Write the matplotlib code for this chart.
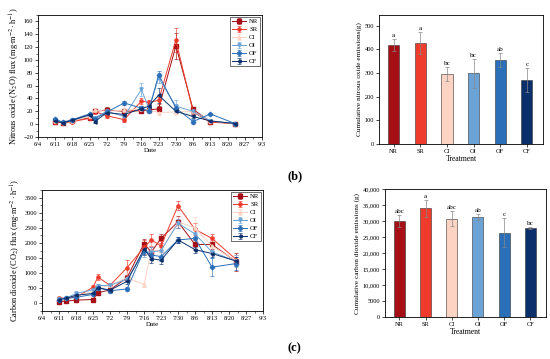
import matplotlib
matplotlib.use("Agg")
import matplotlib.pyplot as plt
import pandas as pd
import numpy as np
from matplotlib.ticker import AutoMinorLocator, FuncFormatter

plt.rcParams['font.family'] = ['Liberation Serif', 'DejaVu Serif']
plt.rcParams['mathtext.fontset'] = 'stix'

# ---------------- data ----------------
dates = ["2021-06-11", "2021-06-14", "2021-06-18", "2021-06-25", "2021-06-27", "2021-07-02",
         "2021-07-09", "2021-07-16", "2021-07-19", "2021-07-23", "2021-07-30", "2021-08-06",
         "2021-08-13", "2021-08-23"]
date_ticks = ["2021-06-04", "2021-06-11", "2021-06-18", "2021-06-25", "2021-07-02", "2021-07-09",
              "2021-07-16", "2021-07-23", "2021-07-30", "2021-08-06", "2021-08-13", "2021-08-20",
              "2021-08-27", "2021-09-03"]
date_tick_labels = ["6/4", "6/11", "6/18", "6/25", "7/2", "7/9", "7/16", "7/23", "7/30", "8/6",
                    "8/13", "8/20", "8/27", "9/3"]
treatments = ["NR", "SR", "CI", "OI", "OF", "CF"]

# N2O flux (mg m-2 h-1)
n2o_NR = [4, 2, 5, 10, 20, 22, 20, 21, 22, 24, 122, 23, 4, 1]
n2o_SR = [4, 2, 4, 9, 20, 13, 7, 36, 34, 37, 131, 19, 3, 1]
n2o_CI = [5, 3, 5, 12, 22, 20, 22, 24, 22, 18, 19, 20, 5, 1]
n2o_OI = [7, 2, 6, 14, 10, 20, 12, 54, 25, 72, 28, 20, 5, 1]
n2o_OF = [8, 3, 7, 16, 8, 19, 33, 25, 20, 77, 25, 4, 16, 1]
n2o_CF = [5, 2, 6, 15, 4, 18, 15, 24, 28, 45, 20, 12, 5, 1]
n2o_err_NR = [1, 1, 1, 2, 3, 4, 3, 3, 3, 4, 20, 4, 1, 0.5]
n2o_err_SR = [1, 1, 1, 3, 4, 3, 3, 4, 3, 5, 18, 3, 1, 0.5]
n2o_err_CI = [1, 1, 1, 2, 3, 3, 8, 4, 3, 3, 4, 3, 1, 0.5]
n2o_err_OI = [1, 1, 1, 2, 2, 3, 4, 10, 4, 8, 10, 4, 1, 0.5]
n2o_err_OF = [1, 1, 1, 2, 2, 3, 3, 4, 3, 6, 5, 4, 2, 0.5]
n2o_err_CF = [1, 1, 1, 3, 2, 3, 4, 4, 3, 12, 3, 3, 1, 0.5]

# CO2 flux (mg m-2 h-1)
co2_NR = [60, 80, 110, 130, 350, 450, 850, 1980, 1700, 2150, 2700, 1950, 1950, 1380]
co2_SR = [170, 180, 200, 540, 870, 600, 1180, 1850, 2100, 1900, 3230, 2450, 2150, 1450]
co2_CI = [150, 180, 250, 400, 500, 600, 850, 620, 1750, 1750, 2700, 2500, 1900, 1400]
co2_OI = [150, 180, 330, 450, 590, 600, 800, 1700, 1700, 1750, 2650, 2300, 1700, 1400]
co2_OF = [130, 170, 200, 300, 520, 420, 480, 1750, 1600, 1550, 2100, 2150, 1200, 1320]
co2_CF = [130, 170, 270, 330, 520, 440, 730, 1800, 1480, 1430, 2100, 1780, 1650, 1400]
co2_err_NR = [20, 20, 30, 40, 50, 60, 100, 150, 150, 150, 200, 150, 150, 300]
co2_err_SR = [30, 30, 40, 60, 100, 80, 250, 250, 200, 150, 150, 200, 150, 150]
co2_err_CI = [30, 30, 40, 60, 80, 60, 150, 60, 250, 200, 150, 350, 200, 200]
co2_err_OI = [30, 30, 50, 50, 60, 60, 100, 150, 150, 150, 150, 200, 200, 200]
co2_err_OF = [30, 30, 40, 50, 60, 60, 60, 150, 150, 150, 100, 150, 300, 200]
co2_err_CF = [30, 30, 40, 50, 60, 60, 80, 150, 150, 120, 100, 100, 100, 150]

# cumulative emissions
cum_n2o = [418, 427, 296, 298, 356, 270]
cum_n2o_err = [25, 45, 28, 62, 30, 50]
cum_n2o_letters = ["a", "a", "bc", "bc", "ab", "c"]
cum_co2 = [30000, 34000, 30700, 31300, 26400, 27900]
cum_co2_err = [2000, 2700, 2300, 1000, 4500, 300]
cum_co2_letters = ["abc", "a", "abc", "ab", "c", "bc"]

# ---------------- style ----------------
colors = ["#A50F15", "#EF3B2C", "#FDD3C4", "#6BA3D6", "#2A6FB8", "#0B2F6B"]
markers = ["s", "o", "^", "v", "D", "<"]

n2o_series = [n2o_NR, n2o_SR, n2o_CI, n2o_OI, n2o_OF, n2o_CF]
n2o_errs = [n2o_err_NR, n2o_err_SR, n2o_err_CI, n2o_err_OI, n2o_err_OF, n2o_err_CF]
co2_series = [co2_NR, co2_SR, co2_CI, co2_OI, co2_OF, co2_CF]
co2_errs = [co2_err_NR, co2_err_SR, co2_err_CI, co2_err_OI, co2_err_OF, co2_err_CF]

x_dates = pd.to_datetime(dates)
tick_dates = pd.to_datetime(date_ticks)

fig = plt.figure(figsize=(5.5, 3.59), dpi=100)
ax1 = fig.add_axes([0.0691, 0.6184, 0.4073, 0.3398])
ax2 = fig.add_axes([0.689, 0.599, 0.298, 0.359])
ax3 = fig.add_axes([0.0764, 0.1337, 0.4018, 0.3370])
ax4 = fig.add_axes([0.700, 0.117, 0.2927, 0.3565])

TICK_FS = 4.6
LAB_FS = 5.5


def style_axes(ax):
    for s in ax.spines.values():
        s.set_linewidth(0.6)
    ax.tick_params(direction='out', length=2, width=0.5, labelsize=TICK_FS, pad=1.5)
    ax.tick_params(which='minor', direction='out', length=1.2, width=0.4)


def line_panel(ax, series, errs, ylim, yticks, ylabel):
    for vals, err, c, m, lab in zip(series, errs, colors, markers, treatments):
        ax.errorbar(x_dates, vals, yerr=err, color=c, marker=m, markersize=2.3,
                    linewidth=0.7, elinewidth=0.45, capsize=1.1, capthick=0.45, label=lab)
    ax.set_xlim(tick_dates[0], tick_dates[-1])
    ax.set_xticks(tick_dates)
    ax.set_xticklabels(date_tick_labels)
    ax.set_xticks([d + pd.Timedelta(days=3.5) for d in tick_dates[:-1]], minor=True)
    ax.set_ylim(*ylim)
    ax.set_yticks(yticks)
    ax.yaxis.set_minor_locator(AutoMinorLocator(2))
    style_axes(ax)
    ax.set_xlabel("Date", fontsize=LAB_FS - 0.5, labelpad=1)
    ax.set_ylabel(ylabel, fontsize=LAB_FS + 0.5, labelpad=1)
    leg = ax.legend(loc='upper right', fontsize=4.8, frameon=True, fancybox=False,
                    edgecolor='black', handlelength=2.2, borderaxespad=0.25,
                    labelspacing=0.35, borderpad=0.3, handletextpad=0.4)
    leg.get_frame().set_linewidth(0.5)


def bar_panel(ax, vals, errs, letters, ylim, yticks, ylabel, fmt=None):
    x = np.arange(len(treatments))
    ax.bar(x, vals, width=0.42, color=colors, edgecolor='#333333', linewidth=0.4)
    ax.errorbar(x, vals, yerr=errs, fmt='none', ecolor='#888888', elinewidth=0.5,
                capsize=1.3, capthick=0.5)
    for xi, v, e, l in zip(x, vals, errs, letters):
        ax.text(xi, v + e + (ylim[1] - ylim[0]) * 0.008, l, ha='center', va='bottom',
                fontsize=TICK_FS + 0.5)
    ax.set_xticks(x)
    ax.set_xticklabels(treatments)
    ax.set_xlim(-0.55, len(treatments) - 0.4)
    ax.set_ylim(*ylim)
    ax.set_yticks(yticks)
    if fmt is not None:
        ax.yaxis.set_major_formatter(FuncFormatter(fmt))
    style_axes(ax)
    ax.set_xlabel("Treatment", fontsize=LAB_FS, labelpad=1)
    ax.set_ylabel(ylabel, fontsize=LAB_FS - 0.3, labelpad=2)


line_panel(ax1, n2o_series, n2o_errs, (-20, 170), np.arange(-20, 161, 20),
           r"Nitrous oxide (N$_2$O) flux (mg$\cdot$m$^{-2}\cdot$h$^{-1}$)")
line_panel(ax3, co2_series, co2_errs, (-250, 3750), np.arange(0, 3501, 500),
           r"Carbon dioxide (CO$_2$) flux (mg$\cdot$m$^{-2}\cdot$h$^{-1}$)")

bar_panel(ax2, cum_n2o, cum_n2o_err, cum_n2o_letters, (0, 545), np.arange(0, 501, 100),
          "Cumulative nitrous oxide emissions(g)")


def co2fmt(v, pos):
    v = int(round(v))
    return "{:,}".format(v) if v >= 10000 else str(v)


bar_panel(ax4, cum_co2, cum_co2_err, cum_co2_letters, (0, 40000), np.arange(0, 40001, 5000),
          "Cumulative carbon dioxide emissions (g)", fmt=co2fmt)

fig.text(0.522, 0.51, "(b)", fontsize=9, fontweight='bold', ha='left', va='center')
fig.text(0.522, 0.03, "(c)", fontsize=9, fontweight='bold', ha='left', va='center')

fig.savefig("out.png", dpi=100)
